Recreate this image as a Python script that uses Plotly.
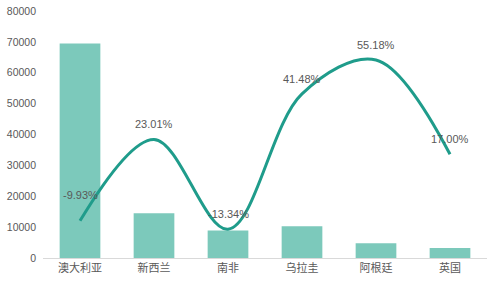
import plotly.graph_objects as go

countries = ["澳大利亚", "新西兰", "南非", "乌拉圭", "阿根廷", "英国"]
volumes = [69500, 14500, 8900, 10300, 4750, 3250]
growth = [-9.93, 23.01, -13.34, 41.48, 55.18, 17.00]
y_ticks = [0, 10000, 20000, 30000, 40000, 50000, 60000, 70000, 80000]

grey = "#595959"
fig = go.Figure()
fig.add_trace(go.Bar(
    x=countries, y=volumes,
    marker=dict(color="#7cc9bb", line=dict(width=0)),
    yaxis="y",
))
fig.add_trace(go.Scatter(
    x=countries, y=growth, mode="lines",
    line=dict(color="#1f9c8b", width=3, shape="spline", smoothing=1.0),
    yaxis="y2",
))
label_shift = {0: 26}
for i, (c, g) in enumerate(zip(countries, growth)):
    fig.add_annotation(
        x=c, y=g, yref="y2", text=f"{g:.2f}%", showarrow=False,
        yshift=label_shift.get(i, 15),
        font=dict(family="Liberation Sans, Arial", size=11, color=grey),
    )

fig.update_layout(
    width=500, height=285,
    margin=dict(l=43, r=13, t=11, b=27),
    paper_bgcolor="white", plot_bgcolor="white",
    showlegend=False, bargap=0.45,
    xaxis=dict(
        showline=True, linecolor="#d9d9d9", linewidth=1,
        ticks="", showgrid=False, automargin=False,
        tickfont=dict(family="Noto Sans CJK SC", size=11, color=grey),
    ),
    yaxis=dict(
        range=[0, 80000], tickvals=y_ticks, tickformat="d",
        showgrid=False, zeroline=False, automargin=False,
        tickfont=dict(family="Liberation Sans, Arial", size=10.5, color=grey),
        ticklabelstandoff=6,
    ),
    yaxis2=dict(
        range=[-25, 75], overlaying="y", side="right", visible=False,
        showgrid=False, zeroline=False,
    ),
)

fig.write_html("out.html")
